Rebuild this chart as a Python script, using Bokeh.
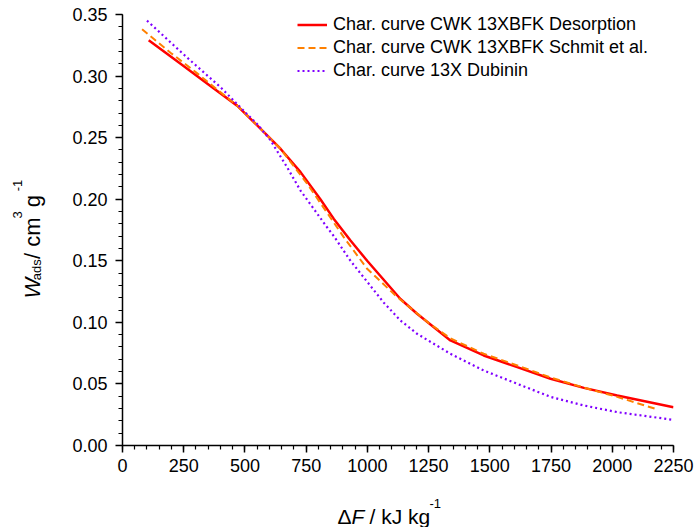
import math
from bokeh.plotting import figure
from bokeh.models import Range1d, FixedTicker, NumeralTickFormatter
from bokeh.layouts import column, row
from bokeh.core.properties import value
from bokeh.embed import file_html
from bokeh.resources import INLINE

# ---- data ----
x_desorption = [107, 237, 359, 468, 550, 645, 727, 808, 863, 931, 999, 1135,
                1203, 1339, 1475, 1612, 1748, 1884, 2020, 2250]
w_desorption = [0.329, 0.310, 0.292, 0.276, 0.260, 0.241, 0.222, 0.200, 0.184,
                0.1665, 0.150, 0.119, 0.107, 0.0853, 0.0731, 0.0636, 0.0542,
                0.0468, 0.0406, 0.031]

x_schmit = [80, 196, 300, 468, 550, 645, 754, 863, 904, 999, 1122, 1250, 1339,
            1475, 1612, 1748, 1884, 2020, 2100, 2176]
w_schmit = [0.338, 0.319, 0.303, 0.276, 0.260, 0.241, 0.2126, 0.181, 0.169,
            0.1435, 0.1205, 0.0995, 0.087, 0.0745, 0.065, 0.0552, 0.0470,
            0.0395, 0.0345, 0.0298]

x_dubinin = [100, 264, 400, 509, 550, 604, 672, 727, 836, 863, 931, 999, 1067,
             1135, 1203, 1339, 1475, 1612, 1748, 1884, 2020, 2250]
w_dubinin = [0.345, 0.315, 0.291, 0.269, 0.261, 0.248, 0.226, 0.207, 0.177,
             0.170, 0.150, 0.133, 0.116, 0.1015, 0.0907, 0.0745, 0.0609, 0.0501,
             0.0395, 0.0325, 0.0271, 0.0208]

series_names = ["Char. curve CWK 13XBFK Desorption",
                "Char. curve CWK 13XBFK Schmit et al.",
                "Char. curve 13X Dubinin"]

x_ticks = [0, 250, 500, 750, 1000, 1250, 1500, 1750, 2000, 2250]
y_ticks = [0.00, 0.05, 0.10, 0.15, 0.20, 0.25, 0.30, 0.35]
x_minor = list(range(0, 2251, 50))
y_minor = [round(i * 0.01, 2) for i in range(0, 36)]

FONT = "Liberation Sans"


def blank(width, height):
    f = figure(width=width, height=height, output_backend="svg",
               toolbar_location=None, x_range=Range1d(0, width),
               y_range=Range1d(0, height), min_border=0,
               x_axis_location=None, y_axis_location=None)
    f.outline_line_color = None
    f.grid.visible = False
    return f


def put(f, x, y, text, size, style="normal", angle=0.0):
    f.text(x=[x], y=[y], text=[text], angle=angle,
           text_font=value(FONT), text_font_size=value(size),
           text_font_style=value(style), text_color="black",
           text_align="left", text_baseline="alphabetic")


# ---- main plot ----
p = figure(width=651, height=490, output_backend="svg", toolbar_location=None,
           x_range=Range1d(0, 2250), y_range=Range1d(0, 0.35),
           min_border_left=74, min_border_right=26,
           min_border_top=14, min_border_bottom=45)
p.outline_line_color = None
p.grid.visible = False

p.line(x_desorption, w_desorption, line_color="#FF0000", line_width=2.5,
       legend_label=series_names[0])
p.line(x_schmit, w_schmit, line_color="#FF8000", line_width=2,
       line_dash="7 4", legend_label=series_names[1])
p.line(x_dubinin, w_dubinin, line_color="#8000FF", line_width=2.2,
       line_dash="2 3", legend_label=series_names[2])

for ax in (p.xaxis[0], p.yaxis[0]):
    ax.axis_line_width = 1.5
    ax.axis_line_color = "black"
    ax.major_tick_line_width = 1.5
    ax.minor_tick_line_width = 1.2
    ax.major_tick_in = 0
    ax.major_tick_out = 7
    ax.minor_tick_in = 0
    ax.minor_tick_out = 4
    ax.major_label_text_font = FONT
    ax.major_label_text_font_size = "18px"
    ax.major_label_text_color = "black"

p.xaxis[0].ticker = FixedTicker(ticks=x_ticks, minor_ticks=x_minor)
p.yaxis[0].ticker = FixedTicker(ticks=y_ticks, minor_ticks=y_minor)
p.xaxis[0].formatter = NumeralTickFormatter(format="0")
p.yaxis[0].formatter = NumeralTickFormatter(format="0.00")
p.xaxis[0].major_label_standoff = 6
p.yaxis[0].major_label_standoff = 8

leg = p.legend[0]
leg.location = (175, 363)
leg.border_line_color = None
leg.background_fill_alpha = 0
leg.padding = 0
leg.margin = 0
leg.spacing = 0
leg.glyph_width = 30
leg.glyph_height = 23
leg.label_height = 23
leg.label_standoff = 6
leg.label_text_font = FONT
leg.label_text_font_size = "18px"
leg.label_text_color = "black"

# ---- y axis title: W_ads / cm3 g-1 (rotated) ----
ylab = blank(48, 490)
a = math.pi / 2
put(ylab, 32, 167, "W", "22px", "italic", a)
put(ylab, 36, 188, "ads", "13px", "normal", a)
put(ylab, 32, 212, "/", "22px", "normal", a)
put(ylab, 32, 226, "cm", "22px", "normal", a)
put(ylab, 17, 258, "3", "13px", "normal", a)
put(ylab, 32, 271, "g", "22px", "normal", a)
put(ylab, 17, 289, "-1", "13px", "normal", a)

# ---- x axis title: ΔF / kJ kg-1 ----
xlab = blank(699, 37)
put(xlab, 337, 11, "\u0394", "21px")
put(xlab, 351, 11, "F", "21px", "italic")
put(xlab, 369, 11, "/ kJ kg", "21px")
put(xlab, 429, 24, "-1", "13px")

layout = column(row(ylab, p, spacing=0), xlab, spacing=0)
open("out.html", "w").write(file_html(layout, INLINE))
